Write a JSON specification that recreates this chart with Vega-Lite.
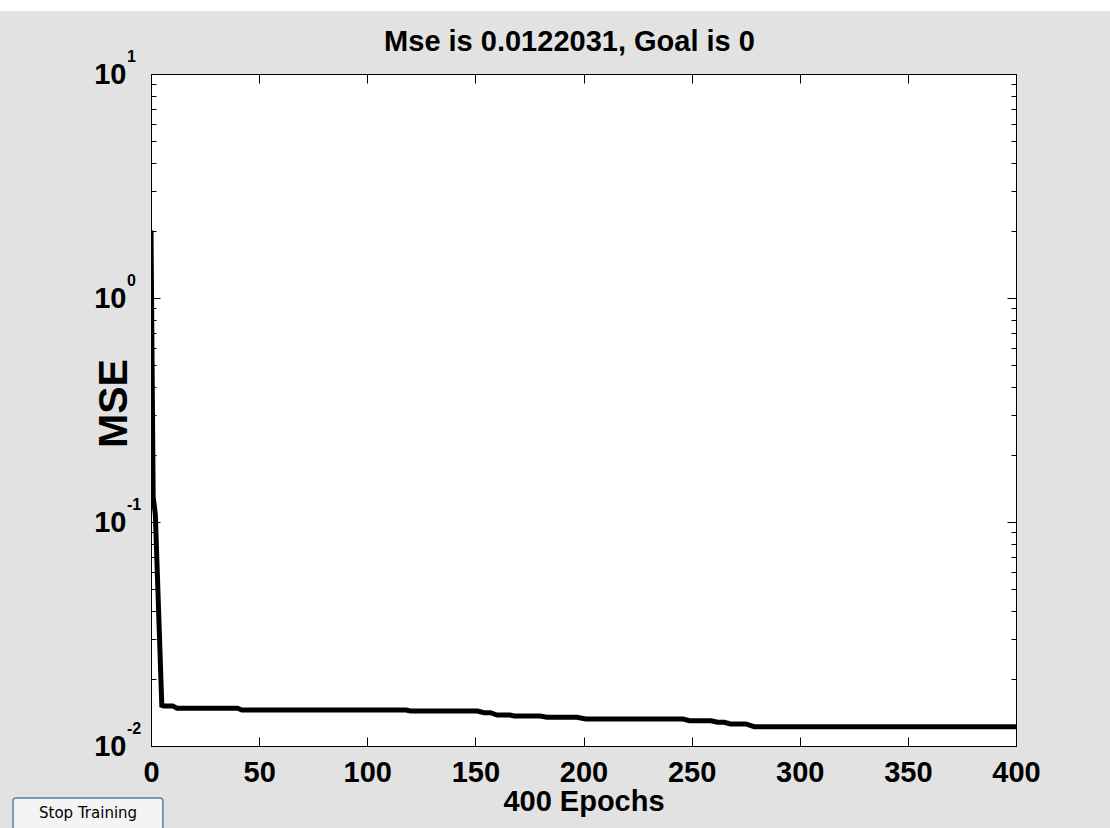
{
  "$schema": "https://vega.github.io/schema/vega-lite/v6.json",
  "width": 865,
  "height": 672,
  "autosize": {"type": "none"},
  "padding": {"left": 151, "top": 74, "right": 94, "bottom": 82},
  "background": "#e2e2e2",
  "config": {
    "view": {"fill": "white", "stroke": "black", "strokeWidth": 1},
    "axis": {
      "grid": false,
      "labelFont": "Liberation Sans",
      "labelFontWeight": "bold",
      "labelFontSize": 29,
      "labelColor": "black",
      "labelFlush": false,
      "labelOverlap": false,
      "labelBound": false,
      "titleFont": "Liberation Sans",
      "titleFontWeight": "bold",
      "titleFontSize": 29,
      "titleColor": "black",
      "domainColor": "black",
      "tickColor": "black",
      "tickSize": -9
    }
  },
  "datasets": {
    "train": [
      {"epoch": 0, "mse": 2.0},
      {"epoch": 1, "mse": 0.13},
      {"epoch": 2, "mse": 0.108},
      {"epoch": 5, "mse": 0.0152},
      {"epoch": 6, "mse": 0.0151},
      {"epoch": 10, "mse": 0.0151},
      {"epoch": 12, "mse": 0.01474},
      {"epoch": 40, "mse": 0.01474},
      {"epoch": 42, "mse": 0.01448},
      {"epoch": 118, "mse": 0.01448},
      {"epoch": 120, "mse": 0.01433},
      {"epoch": 151, "mse": 0.01433},
      {"epoch": 154, "mse": 0.01408},
      {"epoch": 157, "mse": 0.01408},
      {"epoch": 160, "mse": 0.01375},
      {"epoch": 166, "mse": 0.01375},
      {"epoch": 168, "mse": 0.01361},
      {"epoch": 180, "mse": 0.01361},
      {"epoch": 183, "mse": 0.01343},
      {"epoch": 197, "mse": 0.01343},
      {"epoch": 201, "mse": 0.0132},
      {"epoch": 246, "mse": 0.0132},
      {"epoch": 249, "mse": 0.01297},
      {"epoch": 259, "mse": 0.01297},
      {"epoch": 262, "mse": 0.01276},
      {"epoch": 265, "mse": 0.01276},
      {"epoch": 268, "mse": 0.01254},
      {"epoch": 275, "mse": 0.01254},
      {"epoch": 279, "mse": 0.0122},
      {"epoch": 400, "mse": 0.0122}
    ],
    "exps": [
      {"v": 10, "e": "1"},
      {"v": 1, "e": "0"},
      {"v": 0.1, "e": "-1"},
      {"v": 0.01, "e": "-2"}
    ]
  },
  "layer": [
    {
      "data": {"name": "train"},
      "mark": {"type": "line", "color": "black", "strokeWidth": 5, "clip": true},
      "encoding": {
        "x": {
          "field": "epoch", "type": "quantitative",
          "scale": {"domain": [0, 400], "nice": false, "zero": false},
          "axis": {
            "orient": "bottom",
            "values": [0, 50, 100, 150, 200, 250, 300, 350, 400],
            "labelBaseline": "top",
            "labelPadding": 21,
            "title": "400 Epochs",
            "titleY": 64,
            "titleBaseline": "alphabetic"
          }
        },
        "y": {
          "field": "mse", "type": "quantitative",
          "scale": {"type": "log", "domain": [0.01, 10], "nice": false},
          "axis": {
            "orient": "left",
            "values": [0.01, 0.1, 1, 10],
            "labelExpr": "'10'",
            "labelAlign": "right",
            "labelBaseline": "middle",
            "labelPadding": 34,
            "title": "MSE",
            "titleFontSize": 41,
            "titleAngle": -90,
            "titleX": -37,
            "titleY": 329,
            "titleAlign": "center",
            "titleBaseline": "middle"
          }
        }
      }
    },
    {
      "data": {"name": "train"},
      "mark": {"type": "line", "opacity": 0},
      "encoding": {
        "x": {
          "field": "epoch", "type": "quantitative",
          "scale": {"domain": [0, 400], "nice": false, "zero": false},
          "axis": {
            "orient": "top",
            "values": [0, 50, 100, 150, 200, 250, 300, 350, 400],
            "labels": false,
            "title": "Mse is 0.0122031, Goal is 0",
            "titleX": 418,
            "titleY": -24,
            "titleAlign": "center",
            "titleBaseline": "alphabetic",
            "titleAngle": 0
          }
        },
        "y": {
          "field": "mse", "type": "quantitative",
          "scale": {"type": "log", "domain": [0.01, 10], "nice": false},
          "axis": {"orient": "right", "values": [0.01, 0.1, 1, 10], "labels": false, "title": null}
        }
      }
    },
    {
      "data": {"name": "train"},
      "mark": {"type": "line", "opacity": 0},
      "encoding": {
        "x": {
          "field": "epoch", "type": "quantitative",
          "scale": {"domain": [0, 400], "nice": false, "zero": false},
          "axis": null
        },
        "y": {
          "field": "mse", "type": "quantitative",
          "scale": {"type": "log", "domain": [0.01, 10], "nice": false},
          "axis": {"orient": "left", "values": [0.02, 0.03, 0.04, 0.05, 0.06, 0.07, 0.08, 0.09, 0.2, 0.3, 0.4, 0.5, 0.6, 0.7, 0.8, 0.9, 2, 3, 4, 5, 6, 7, 8, 9], "labels": false, "domain": false, "tickSize": -5, "title": null}
        }
      }
    },
    {
      "data": {"name": "train"},
      "mark": {"type": "line", "opacity": 0},
      "encoding": {
        "x": {
          "field": "epoch", "type": "quantitative",
          "scale": {"domain": [0, 400], "nice": false, "zero": false},
          "axis": null
        },
        "y": {
          "field": "mse", "type": "quantitative",
          "scale": {"type": "log", "domain": [0.01, 10], "nice": false},
          "axis": {"orient": "right", "values": [0.02, 0.03, 0.04, 0.05, 0.06, 0.07, 0.08, 0.09, 0.2, 0.3, 0.4, 0.5, 0.6, 0.7, 0.8, 0.9, 2, 3, 4, 5, 6, 7, 8, 9], "labels": false, "domain": false, "tickSize": -5, "title": null}
        }
      }
    },
    {
      "data": {"name": "exps"},
      "mark": {"type": "text", "font": "Liberation Sans", "fontWeight": "bold", "fontSize": 16, "color": "black", "align": "left", "baseline": "alphabetic", "dx": -24, "dy": -12},
      "encoding": {
        "x": {"datum": 0, "type": "quantitative", "scale": {"domain": [0, 400], "nice": false, "zero": false}, "axis": null},
        "y": {"field": "v", "type": "quantitative", "scale": {"type": "log", "domain": [0.01, 10], "nice": false}, "axis": null},
        "text": {"field": "e"}
      }
    },
    {
      "data": {"values": [{}]},
      "mark": {"type": "rect", "fill": "white"},
      "encoding": {
        "x": {"datum": -80, "type": "quantitative", "scale": {"domain": [0, 400], "nice": false, "zero": false}, "axis": null},
        "x2": {"datum": 460},
        "y": {"datum": 19.1, "type": "quantitative", "scale": {"type": "log", "domain": [0.01, 10], "nice": false}, "axis": null},
        "y2": {"datum": 40}
      }
    },
    {
      "data": {"values": [{}]},
      "mark": {"type": "rect", "fill": "#f4f4f4", "stroke": "#5a7eb0", "strokeWidth": 1.5, "cornerRadius": 3},
      "encoding": {
        "x": {"datum": -63.8, "type": "quantitative", "scale": {"domain": [0, 400], "nice": false, "zero": false}, "axis": null},
        "x2": {"datum": 5.5},
        "y": {"datum": 0.00586, "type": "quantitative", "scale": {"type": "log", "domain": [0.01, 10], "nice": false}, "axis": null},
        "y2": {"datum": 0.0040}
      }
    },
    {
      "data": {"values": [{"label": "Stop Training"}]},
      "mark": {"type": "text", "font": "DejaVu Sans", "fontSize": 15, "color": "black", "align": "center", "baseline": "middle"},
      "encoding": {
        "x": {"datum": -29.1, "type": "quantitative", "scale": {"domain": [0, 400], "nice": false, "zero": false}, "axis": null},
        "y": {"datum": 0.00502, "type": "quantitative", "scale": {"type": "log", "domain": [0.01, 10], "nice": false}, "axis": null},
        "text": {"field": "label"}
      }
    }
  ],
  "resolve": {"axis": {"x": "independent", "y": "independent"}}
}
